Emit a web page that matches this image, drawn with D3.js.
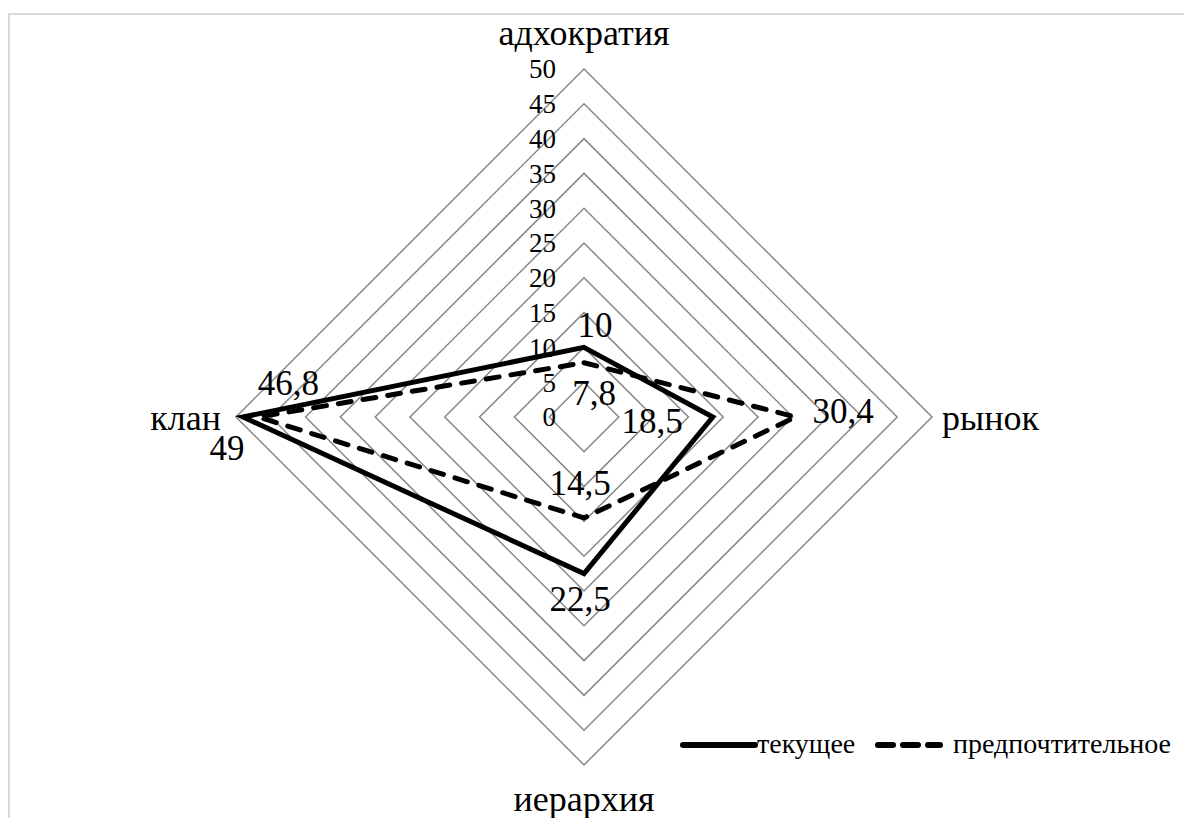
<!DOCTYPE html>
<html>
<head>
<meta charset="utf-8">
<script src="https://cdn.jsdelivr.net/npm/d3@7"></script>
<style>
  html, body { margin: 0; padding: 0; background: #fff; }
  svg { display: block; }
</style>
</head>
<body>
<div id="chart"></div>
<script>
// axes du radar (sens horaire depuis le haut)
const axes = ['адхократия', 'рынок', 'иерархия', 'клан']
// séries
const seriesNames = ['текущее', 'предпочтительное']
const current = [10, 18.5, 22.5, 49]
const preferred = [7.8, 30.4, 14.5, 46.8]
// graduations
const ticks = [0, 5, 10, 15, 20, 25, 30, 35, 40, 45, 50]

const W = 1184, H = 818
const cx = 584, cy = 417, R = 348
const FONT = "'Liberation Serif', 'Times New Roman', 'DejaVu Serif', serif"

const svg = d3.select('#chart').append('svg')
  .attr('width', W)
  .attr('height', H)
  .attr('font-family', FONT)

// cadre
svg.append('rect')
  .attr('x', 9).attr('y', 14)
  .attr('width', 1200).attr('height', 840)
  .attr('fill', 'none')
  .attr('stroke', '#d9d9d9')
  .attr('stroke-width', 2)

const r = d3.scaleLinear().domain([0, 50]).range([0, R])
const ang = i => i * Math.PI / 2

function pt(v, i) {
  return [cx + r(v) * Math.sin(ang(i)), cy - r(v) * Math.cos(ang(i))]
}

const g = svg.append('g')

// grille
ticks.filter(t => t > 0).forEach(t => {
  g.append('path')
    .attr('d', d3.line()(axes.map((a, i) => pt(t, i))) + 'Z')
    .attr('fill', 'none')
    .attr('stroke', '#888')
    .attr('stroke-width', 1.5)
})

// étiquettes des graduations
g.selectAll('.tick')
  .data(ticks)
  .join('text')
  .attr('x', cx - 28)
  .attr('y', d => cy - r(d))
  .attr('dy', '0.35em')
  .attr('text-anchor', 'end')
  .attr('font-size', 27)
  .text(d => d)

// noms des axes
const axisLabelPos = [
  { x: cx, y: 45, anchor: 'middle' },
  { x: 942, y: 430, anchor: 'start' },
  { x: cx, y: 811, anchor: 'middle' },
  { x: 221, y: 430, anchor: 'end' }
]
g.selectAll('.axlab')
  .data(axes)
  .join('text')
  .attr('x', (d, i) => axisLabelPos[i].x)
  .attr('y', (d, i) => axisLabelPos[i].y)
  .attr('text-anchor', (d, i) => axisLabelPos[i].anchor)
  .attr('font-size', 36)
  .text(d => d)

// séries
const styles = [
  { dash: null, cap: 'butt' },
  { dash: '13,12', cap: 'round' }
]
const data = [current, preferred]
data.forEach((s, k) => {
  g.append('path')
    .attr('d', d3.line()(s.map((v, i) => pt(v, i))) + 'Z')
    .attr('fill', 'none')
    .attr('stroke', '#000')
    .attr('stroke-width', 5)
    .attr('stroke-linejoin', 'miter')
    .attr('stroke-linecap', styles[k].cap)
    .attr('stroke-dasharray', styles[k].dash)
})

// étiquettes de valeurs (décalage par rapport au point)
const fmt = v => String(v).replace('.', ',')
const offsets = [
  [[11, -10, 'middle'], [-30, 16, 'end'], [-4, 37, 'middle'], [-16, 43, 'middle']],
  [[10, 42, 'middle'], [17, 6, 'start'], [-4, -23, 'middle'], [30, -22, 'middle']]
]
data.forEach((s, k) => {
  s.forEach((v, i) => {
    const p = pt(v, i)
    const o = offsets[k][i]
    g.append('text')
      .attr('x', p[0] + o[0])
      .attr('y', p[1] + o[1])
      .attr('text-anchor', o[2])
      .attr('font-size', 35)
      .text(fmt(v))
  })
})

// légende
const leg = svg.append('g')
const ly = 745
leg.append('line')
  .attr('x1', 683).attr('x2', 755).attr('y1', ly).attr('y2', ly)
  .attr('stroke', '#000').attr('stroke-width', 6).attr('stroke-linecap', 'round')
leg.append('text')
  .attr('x', 757).attr('y', ly + 8).attr('font-size', 28).text(seriesNames[0])
leg.append('line')
  .attr('x1', 878).attr('x2', 940).attr('y1', ly).attr('y2', ly)
  .attr('stroke', '#000').attr('stroke-width', 6).attr('stroke-linecap', 'round')
  .attr('stroke-dasharray', '15,10')
leg.append('text')
  .attr('x', 953).attr('y', ly + 8).attr('font-size', 28).text(seriesNames[1])
</script>
</body>
</html>
